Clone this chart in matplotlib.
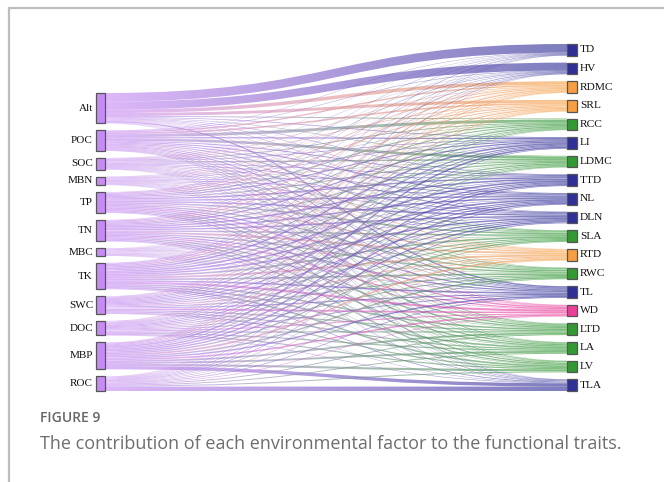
import numpy as np
import matplotlib
matplotlib.use("Agg")
import matplotlib.pyplot as plt
from matplotlib.path import Path
from matplotlib.patches import PathPatch, Rectangle
from matplotlib.colors import to_rgb

# ---------------- data ----------------
sources = ["Alt", "POC", "SOC", "MBN", "TP", "TN", "MBC", "TK", "SWC", "DOC", "MBP", "ROC"]
targets = ["TD", "HV", "RDMC", "SRL", "RCC", "LI", "LDMC", "TTD", "NL", "DLN",
           "SLA", "RTD", "RWC", "TL", "WD", "LTD", "LA", "LV", "TLA"]
target_groups = ["blue", "blue", "orange", "orange", "green", "blue", "green", "blue", "blue", "blue",
                 "green", "orange", "green", "blue", "pink", "green", "green", "green", "blue"]

# contribution (%) of each factor (rows) to each trait (columns); every column sums to 100
#            TD  HV RDMC SRL RCC LI LDMC TTD NL DLN SLA RTD RWC TL  WD LTD LA  LV TLA
alt_vals = [75, 68, 30, 25,  8,  6,  5,  5,  4,  4,  3,  3,  3, 12,  2,  2,  2,  2,  2]
poc_vals = [ 3,  4, 12, 14, 25, 10, 22,  8,  9,  8,  9,  7,  8,  8,  6,  7,  7,  6,  4]
soc_vals = [ 2,  2,  5,  6,  8,  6, 12,  6,  7,  6,  6,  5,  5,  5,  4,  5,  4,  4,  2]
mbn_vals = [ 1,  2,  3,  4,  4,  5,  4,  5,  6,  5,  5,  4,  5,  4,  3,  4,  4,  3,  2]
tp_vals  = [ 3,  4,  8,  9, 10,  9,  9, 12, 11, 12, 13, 10, 12, 10, 12, 11, 10, 10,  4]
tn_vals  = [ 3,  3,  9,  8,  9, 11, 10, 13, 12, 12, 12, 15, 12, 10, 10, 11, 11, 10,  4]
mbc_vals = [ 1,  1,  2,  3,  3,  4,  3,  4,  4,  5,  4,  4,  4,  4,  4,  4,  4,  4,  2]
tk_vals  = [ 4,  5, 10, 10, 11, 14, 11, 14, 13, 13, 14, 16, 14, 13, 18, 13, 14, 14,  6]
swc_vals = [ 2,  3,  6,  6,  7,  9,  8,  9,  9,  9,  9,  9, 10,  9, 14, 10, 10, 10,  3]
doc_vals = [ 2,  2,  4,  4,  5,  7,  5,  7,  8,  8,  8,  7,  8,  7,  9, 10, 10, 10,  4]
mbp_vals = [ 3,  4,  8,  8,  7, 14,  8, 12, 12, 12, 12, 15, 13, 12, 13, 15, 16, 18, 29]
roc_vals = [ 1,  2,  3,  3,  3,  5,  3,  5,  5,  6,  5,  5,  6,  6,  5,  8,  8,  9, 38]

caption_label = "FIGURE 9"
caption_text = "The contribution of each environmental factor to the functional traits."

# ---------------- style ----------------
source_color = "#c78cf4"
group_colors = {"blue": "#2f2f96", "orange": "#f7a043", "green": "#339a33", "pink": "#ea3f9b"}
link_alpha = 0.62

W, H = 664, 482
fig = plt.figure(figsize=(W / 100, H / 100), dpi=100)
ax = fig.add_axes([0, 0, 1, 1])
ax.set_xlim(0, W)
ax.set_ylim(H, 0)
ax.axis("off")

# frame (top and left edges)
ax.plot([8, W], [7.5, 7.5], color="#bdbdbd", lw=1.6, solid_capstyle="butt")
ax.plot([8.5, 8.5], [7, H], color="#bdbdbd", lw=1.6, solid_capstyle="butt")

# ---------------- layout ----------------
M = np.array([alt_vals, poc_vals, soc_vals, mbn_vals, tp_vals, tn_vals, mbc_vals,
              tk_vals, swc_vals, doc_vals, mbp_vals, roc_vals], dtype=float)
src_tot = M.sum(axis=1)
tgt_tot = M.sum(axis=0)

bottom = 391.0
top_right = 44.0
gap = 7.0
k = (bottom - top_right - gap * (len(targets) - 1)) / tgt_tot.sum()

lx0, lx1 = 96.0, 105.0
rx0, rx1 = 567.0, 577.0

left_h = src_tot * k
left_top = bottom - (left_h.sum() + gap * (len(sources) - 1))
left_y = left_top + np.concatenate([[0], np.cumsum(left_h + gap)[:-1]])
right_h = tgt_tot * k
right_y = top_right + np.concatenate([[0], np.cumsum(right_h + gap)[:-1]])

# link offsets: at source sorted by target order, at target by source order
src_off = np.zeros((len(sources), len(targets)))
for i in range(len(sources)):
    acc = left_y[i]
    for j in range(len(targets)):
        src_off[i, j] = acc
        acc += M[i, j] * k
tgt_off = np.zeros((len(sources), len(targets)))
for j in range(len(targets)):
    acc = right_y[j]
    for i in range(len(sources)):
        tgt_off[i, j] = acc
        acc += M[i, j] * k

xm = (lx1 + rx0) / 2
c0 = np.array(to_rgb(source_color))
for i in range(len(sources)):
    for j in range(len(targets)):
        v = M[i, j]
        if v <= 0:
            continue
        w = v * k
        s0, s1 = src_off[i, j], src_off[i, j] + w
        t0, t1 = tgt_off[i, j], tgt_off[i, j] + w
        verts = [(lx1, s0), (xm, s0), (xm, t0), (rx0, t0),
                 (rx0, t1),
                 (xm, t1), (xm, s1), (lx1, s1),
                 (lx1, s0)]
        codes = [Path.MOVETO, Path.CURVE4, Path.CURVE4, Path.CURVE4,
                 Path.LINETO,
                 Path.CURVE4, Path.CURVE4, Path.CURVE4,
                 Path.CLOSEPOLY]
        path = Path(verts, codes)
        patch = PathPatch(path, facecolor="none", edgecolor="none")
        ax.add_patch(patch)
        c1 = np.array(to_rgb(group_colors[target_groups[j]]))
        tt = np.linspace(0, 1, 64)[:, None]
        grad = np.zeros((1, 64, 4))
        grad[0, :, :3] = c0 * (1 - tt) + c1 * tt
        grad[0, :, 3] = link_alpha
        ymin, ymax = min(s0, t0), max(s1, t1)
        im = ax.imshow(grad, extent=(lx1, rx0, ymax, ymin), aspect="auto",
                       interpolation="bilinear", zorder=2)
        im.set_clip_path(patch)

ax.set_xlim(0, W)
ax.set_ylim(H, 0)

serif = ["Liberation Serif", "DejaVu Serif"]
for i, name in enumerate(sources):
    ax.add_patch(Rectangle((lx0, left_y[i]), lx1 - lx0, left_h[i], facecolor=source_color,
                           edgecolor="#555555", lw=0.9, zorder=3))
    ax.text(lx0 - 3, left_y[i] + left_h[i] / 2, name, ha="right", va="center",
            fontsize=8, family=serif, color="#111111", zorder=4)
for j, name in enumerate(targets):
    ax.add_patch(Rectangle((rx0, right_y[j]), rx1 - rx0, right_h[j],
                           facecolor=group_colors[target_groups[j]],
                           edgecolor="#555555", lw=0.9, zorder=3))
    ax.text(rx1 + 3, right_y[j] + right_h[j] / 2, name, ha="left", va="center",
            fontsize=8.2, family=serif, color="#111111", zorder=4)

ax.text(40, 418, caption_label, ha="left", va="center", fontsize=10,
        family=["Open Sans", "DejaVu Sans"], fontweight="semibold", color="#666666")
ax.text(40, 444, caption_text, ha="left", va="center", fontsize=13,
        family=["Open Sans", "DejaVu Sans"], color="#6e6e6e")

fig.savefig("out.png", dpi=100)
